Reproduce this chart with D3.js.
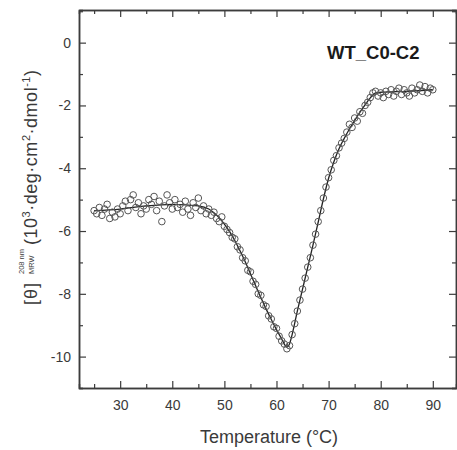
<!DOCTYPE html>
<html>
<head>
<meta charset="utf-8">
<script src="https://cdn.jsdelivr.net/npm/d3@7"></script>
<style>
  html, body { margin: 0; padding: 0; background: #fff; }
  svg { display: block; font-family: "Liberation Sans", Arial, sans-serif; }
</style>
</head>
<body>
<div id="chart"></div>
<script>
// Measured CD signal at 208 nm (10^3 deg cm2 dmol-1) vs temperature
const temps = [
  25, 25.5, 26, 26.5, 27, 27.5, 28, 28.5, 29, 29.5,
  30, 30.5, 31, 31.5, 32, 32.5, 33, 33.5, 34, 34.5,
  35, 35.5, 36, 36.5, 37, 37.5, 38, 38.5, 39, 39.5,
  40, 40.5, 41, 41.5, 42, 42.5, 43, 43.5, 44, 44.5,
  45, 45.5, 46, 46.5, 47, 47.5, 48, 48.5, 49, 49.5,
  50, 50.5, 51, 51.5, 52, 52.5, 53, 53.5, 54, 54.5,
  55, 55.5, 56, 56.5, 57, 57.5, 58, 58.5, 59, 59.5,
  60, 60.5, 61, 61.5, 62, 62.5, 63, 63.5, 64, 64.5,
  65, 65.5, 66, 66.5, 67, 67.5, 68, 68.5, 69, 69.5,
  70, 70.5, 71, 71.5, 72, 72.5, 73, 73.5, 74, 74.5,
  75, 75.5, 76, 76.5, 77, 77.5, 78, 78.5, 79, 79.5,
  80, 80.5, 81, 81.5, 82, 82.5, 83, 83.5, 84, 84.5,
  85, 85.5, 86, 86.5, 87, 87.5, 88, 88.5, 89, 89.5,
  90
];
const signal = [
  -5.35, -5.45, -5.25, -5.5, -5.3, -5.15, -5.6, -5.4, -5.55, -5.3,
  -5.45, -5.2, -5.05, -5.35, -5.0, -4.85, -5.25, -5.1, -5.45, -5.2,
  -5.3, -5.0, -5.15, -4.9, -5.35, -5.05, -5.7, -5.2, -4.85, -5.1,
  -5.3, -5.0, -5.25, -5.15, -5.4, -5.05, -5.3, -5.5, -5.1, -5.25,
  -4.95, -5.35, -5.2, -5.45, -5.3, -5.5, -5.4, -5.6, -5.7, -5.55,
  -5.85, -5.95, -6.05, -6.2, -6.25, -6.5, -6.6, -6.85, -6.95, -7.25,
  -7.3, -7.6, -7.7, -8.0, -8.05, -8.35, -8.4, -8.7, -8.8, -9.05,
  -9.1, -9.35, -9.5, -9.6, -9.75, -9.65, -9.3, -8.95, -8.55, -8.2,
  -7.85, -7.5, -7.15, -6.85, -6.45, -6.1, -5.7, -5.35, -4.95, -4.6,
  -4.3, -4.05, -3.75, -3.6, -3.35, -3.2, -3.05, -2.85, -2.6, -2.7,
  -2.4, -2.5, -2.2, -2.25, -2.0, -1.9, -1.75, -1.6, -1.55, -1.7,
  -1.6, -1.75, -1.55, -1.65, -1.5, -1.7, -1.55, -1.45, -1.65, -1.5,
  -1.6, -1.7, -1.45, -1.6, -1.5, -1.35, -1.55, -1.4, -1.6, -1.45,
  -1.5
];

// Fitted curve
const fitTemps = [25, 30, 35, 40, 45, 47, 48, 49, 50, 51, 52, 53, 54, 55, 56, 57, 58, 59, 60, 61,
  61.5, 62, 62.5, 63, 64, 65, 66, 67, 68, 69, 70, 71, 72, 73, 74, 75, 76, 77, 78, 79, 80, 85, 90];
const fitVals = [-5.35, -5.3, -5.2, -5.15, -5.2, -5.3, -5.42, -5.58, -5.78, -6.02, -6.3, -6.63, -6.98, -7.36, -7.74, -8.12, -8.48, -8.82, -9.14, -9.44,
  -9.6, -9.7, -9.6, -9.3, -8.55, -7.85, -7.15, -6.45, -5.72, -4.98, -4.32, -3.8, -3.38, -3.05, -2.75, -2.48, -2.22, -1.98, -1.76, -1.6, -1.58, -1.55, -1.5];

const xTicks = [30, 40, 50, 60, 70, 80, 90];
const xMinor = [25, 35, 45, 55, 65, 75, 85];
const yTicks = [0, -2, -4, -6, -8, -10];
const yMinor = [1, -1, -3, -5, -7, -9, -11];

const W = 457, H = 450;
const margin = { left: 79, right: 456, top: 10, bottom: 388 };
const axisColor = '#3c3c3c';
const textColor = '#3a3a3a';

const svg = d3.select('#chart').append('svg')
  .attr('width', W)
  .attr('height', H);

const x = d3.scaleLinear().domain([22.1, 94.45]).range([margin.left, margin.right]);
const y = d3.scaleLinear().domain([-11, 1.04]).range([margin.bottom, margin.top]);

// Axes: ticks point inward, mirrored on top and right
function styleAxis(g) {
  g.select('.domain').attr('stroke', axisColor).attr('stroke-width', 1.5);
  g.selectAll('.tick line').attr('stroke', axisColor).attr('stroke-width', 1.2);
  g.selectAll('.tick text').attr('fill', textColor).style('font-size', '14px');
}

svg.append('g')
  .attr('transform', `translate(0,${margin.bottom})`)
  .call(d3.axisBottom(x).tickValues(xTicks).tickSizeInner(-7).tickSizeOuter(0).tickPadding(12).tickFormat(d3.format('d')))
  .call(styleAxis);
svg.append('g')
  .attr('transform', `translate(0,${margin.bottom})`)
  .call(d3.axisBottom(x).tickValues(xMinor).tickSize(-4).tickFormat(''))
  .call(styleAxis);
svg.append('g')
  .attr('transform', `translate(0,${margin.top})`)
  .call(d3.axisTop(x).tickValues(xTicks).tickSizeInner(-7).tickSizeOuter(0).tickFormat(''))
  .call(styleAxis);
svg.append('g')
  .attr('transform', `translate(0,${margin.top})`)
  .call(d3.axisTop(x).tickValues(xMinor).tickSize(-4).tickFormat(''))
  .call(styleAxis);

svg.append('g')
  .attr('transform', `translate(${margin.left},0)`)
  .call(d3.axisLeft(y).tickValues(yTicks).tickSizeInner(-7).tickSizeOuter(0).tickPadding(8).tickFormat(d3.format('d')))
  .call(styleAxis);
svg.append('g')
  .attr('transform', `translate(${margin.left},0)`)
  .call(d3.axisLeft(y).tickValues(yMinor).tickSize(-4).tickFormat(''))
  .call(styleAxis);
svg.append('g')
  .attr('transform', `translate(${margin.right},0)`)
  .call(d3.axisRight(y).tickValues(yTicks).tickSizeInner(-7).tickSizeOuter(0).tickFormat(''))
  .call(styleAxis);
svg.append('g')
  .attr('transform', `translate(${margin.right},0)`)
  .call(d3.axisRight(y).tickValues(yMinor).tickSize(-4).tickFormat(''))
  .call(styleAxis);

// use a plain hyphen for negative labels like the original
svg.selectAll('.tick text').text(function () { return this.textContent.replace('\u2212', '-'); });

// Fitted line
const line = d3.line()
  .x((d, i) => x(fitTemps[i]))
  .y(d => y(d))
  .curve(d3.curveMonotoneX);
svg.append('path')
  .datum(fitVals)
  .attr('d', line)
  .attr('fill', 'none')
  .attr('stroke', '#222')
  .attr('stroke-width', 1.3);

// Data points (open circles)
svg.append('g')
  .selectAll('circle')
  .data(signal)
  .enter()
  .append('circle')
  .attr('cx', (d, i) => x(temps[i]))
  .attr('cy', d => y(d))
  .attr('r', 3.3)
  .attr('fill', 'none')
  .attr('stroke', '#555')
  .attr('stroke-width', 1);

// Sample label
svg.append('text')
  .attr('x', 327)
  .attr('y', 59)
  .attr('fill', '#1a1a1a')
  .style('font-size', '18.5px')
  .style('font-weight', 'bold')
  .text('WT_C0-C2');

// X axis title
svg.append('text')
  .attr('x', 269)
  .attr('y', 443)
  .attr('text-anchor', 'middle')
  .attr('fill', textColor)
  .style('font-size', '18px')
  .text('Temperature (\u00B0C)');

// Y axis title, rotated
const yt = svg.append('g').attr('transform', 'translate(37,305) rotate(-90)');
yt.append('text')
  .attr('x', 0).attr('y', 0)
  .attr('fill', textColor)
  .style('font-size', '18px')
  .attr('textLength', 22)
  .text('[\u03B8]');
yt.append('text')
  .attr('x', 31).attr('y', -13)
  .attr('fill', textColor)
  .style('font-size', '7.5px')
  .text('208 nm');
yt.append('text')
  .attr('x', 31).attr('y', -3)
  .attr('fill', textColor)
  .style('font-size', '7.5px')
  .text('MRW');
const mainT = yt.append('text')
  .attr('x', 60).attr('y', 0)
  .attr('fill', textColor)
  .style('font-size', '18px')
  .attr('textLength', 175);
mainT.append('tspan').text('(10');
mainT.append('tspan').attr('dy', -7).style('font-size', '11px').text('3');
mainT.append('tspan').attr('dy', 7).text('\u00B7deg\u00B7cm');
mainT.append('tspan').attr('dy', -7).style('font-size', '11px').text('2');
mainT.append('tspan').attr('dy', 7).text('\u00B7dmol');
mainT.append('tspan').attr('dy', -7).style('font-size', '11px').text('-1');
mainT.append('tspan').attr('dy', 7).text(')');
</script>
</body>
</html>
